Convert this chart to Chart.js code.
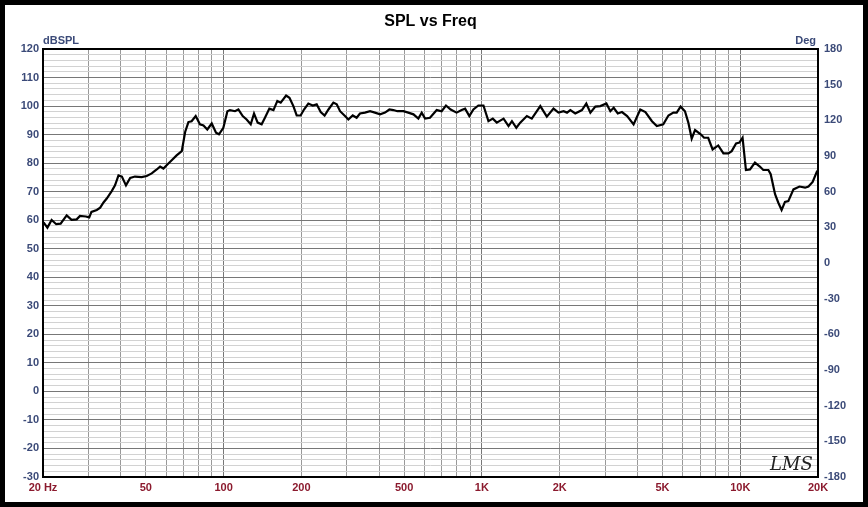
<!DOCTYPE html>
<html><head><meta charset="utf-8">
<script src="https://cdn.jsdelivr.net/npm/chart.js@4.4.1/dist/chart.umd.min.js"></script>
<style>html,body{margin:0;padding:0;background:#fff}#w{width:868px;height:507px}</style>
</head><body><div id="w"><canvas id="c" width="868" height="507"></canvas></div>
<script>
const freqHz = [20.1,20.8,21.6,22.5,23.4,24.7,25.8,27.0,27.8,29.3,30.2,30.8,32.3,33.3,34.3,35.3,36.9,38.0,39.2,40.4,41.9,43.5,45.4,48.2,50.4,52.7,54.8,56.8,58.5,60.6,63.0,65.8,68.9,71.0,73.1,75.2,78.0,81.0,83.6,86.5,90.0,93.5,96.0,99.8,103.5,105.9,110.7,114.1,118.6,122.8,127.4,131.2,135.5,140.4,144.6,150.4,156.0,161.5,166.4,174.6,179.9,186.3,191.9,198.7,204.8,212.9,221.4,229.3,237.7,246.1,254.7,266.1,274.2,282.5,295.2,304.1,316.2,327.4,337.3,352.5,369,385.5,403.6,421.7,438.5,453.9,470.9,496.6,518.8,543.3,567.6,584.8,602.6,629.6,668.5,698.4,726,757,798,835,861,894,927,969,1014,1060,1102,1142,1213,1268,1307,1359,1407,1493,1560,1683,1784,1893,1979,2072,2135,2200,2298,2439,2536,2630,2749,2874,3033,3142,3237,3357,3485,3649,3865,4102,4295,4553,4755,5036,5273,5510,5676,5877,6110,6296,6488,6685,7031,7244,7517,7817,8221,8609,8994,9267,9637,9930,10210,10520,10910,11400,11910,12280,12850,13120,13640,14030,14460,14900,15350,16070,16950,17830,18370,19070,19770,20000];
const splDb = [59.2,57.4,60.1,58.6,58.8,61.7,60.1,60.3,61.5,61.3,61.0,62.9,63.6,64.4,66.2,67.6,70.2,72.2,75.7,75.3,72.2,74.8,75.3,75.1,75.5,76.4,77.6,78.8,78.1,79.5,81.0,82.7,84.2,90.9,94.4,94.7,96.5,93.6,93.2,91.8,93.9,90.7,90.1,92.4,98.2,98.6,98.2,98.8,96.5,95.3,93.6,97.4,94.2,93.6,95.9,99.1,98.6,101.8,101.2,103.7,102.9,100,96.7,96.7,98.8,100.9,100.2,100.6,97.9,96.7,98.8,101.2,100.6,98.2,96.5,95.3,96.7,95.9,97.4,97.7,98.2,97.7,97.1,97.7,98.8,98.6,98.2,98.2,97.7,97.1,95.6,97.7,95.6,95.9,98.6,98.2,100.2,98.8,97.7,98.6,99.1,96.5,98.8,100.2,100.2,94.7,95.6,94.2,95.6,93.0,94.7,92.4,94.2,96.5,95.6,100,96.3,99.1,97.7,98.2,97.7,98.6,97.4,98.6,100.9,97.7,99.8,100,100.9,98.2,99.4,97.4,97.9,96.5,93.6,98.8,97.9,94.7,93.0,93.6,96.7,97.7,97.7,99.8,98.2,94.2,88.6,91.6,90.1,88.9,88.9,84.8,86.2,83.4,83.4,84.2,86.9,87.2,88.9,77.6,77.8,80.2,78.8,77.6,77.6,76.1,69.1,66.2,63.6,66.4,66.7,70.8,71.8,71.4,71.8,73.4,76.9,77.5];
const xTickLabels = {20:'20 Hz',50:'50',100:'100',200:'200',500:'500',1000:'1K',2000:'2K',5000:'5K',10000:'10K',20000:'20K'};
const gridFreqs = [20,30,40,50,60,70,80,90,100,200,300,400,500,600,700,800,900,1000,2000,3000,4000,5000,6000,7000,8000,9000,10000,20000];

const font = {family:'Liberation Sans, Arial', size:11, weight:'bold'};
const frame = {
  id:'frame',
  afterDraw(ch){
    const c=ch.ctx, a=ch.chartArea;
    c.save();
    c.strokeStyle='#000'; c.lineWidth=2;
    c.strokeRect(a.left,a.top,a.right-a.left,a.bottom-a.top);
    c.lineWidth=5; c.strokeRect(2.5,2.5,863,502);
    c.fillStyle='#000'; c.font='bold 16px Liberation Sans, Arial'; c.textAlign='center';
    c.fillText('SPL vs Freq',(a.left+a.right)/2,26);
    c.fillStyle='#3b4a78'; c.font='bold 11px Liberation Sans, Arial';
    c.textAlign='left'; c.fillText('dBSPL',43,44);
    c.textAlign='right'; c.fillText('Deg',a.right-2,44);
    c.fillStyle='#222'; c.font='italic 18px DejaVu Serif, serif'; c.textAlign='left';
    c.fillText('LMS',770,470);
    c.restore();
  }
};
new Chart(document.getElementById('c'),{
  type:'line',
  data:{datasets:[{data:freqHz.map((f,i)=>({x:f,y:splDb[i]})),borderColor:'#000',borderWidth:2.2,pointRadius:0,tension:0,yAxisID:'y'}]},
  options:{
    responsive:false,animation:false,
    layout:{padding:{top:49,left:0,right:0,bottom:0}},
    plugins:{legend:{display:false},tooltip:{enabled:false},title:{display:false}},
    scales:{
      x:{type:'logarithmic',min:20,max:20000,
        afterBuildTicks(s){s.ticks=gridFreqs.map(v=>({value:v}));},
        afterFit(s){s.height=30;},
        ticks:{autoSkip:false,maxRotation:0,color:'#8b1a2e',font,padding:4,callback:(v)=>xTickLabels[v]||''},
        grid:{color:(ctx)=>{const v=ctx.tick&&ctx.tick.value;return [100,1000,10000].includes(v)?'#777':'#999';},drawTicks:false},
        border:{display:false}},
      y:{position:'left',min:-30,max:120,
        afterBuildTicks(s){const t=[];for(let v=-30;v<=120;v+=2)t.push({value:v});s.ticks=t;},
        afterFit(s){s.width=43;},
        ticks:{autoSkip:false,color:'#3b4a78',font,padding:4,callback:(v)=>v%10===0?String(v):''},
        grid:{color:(ctx)=>{const v=ctx.tick&&ctx.tick.value;return v%10===0?'#777':'#d2d2d2';},drawTicks:false},
        border:{display:false}},
      y2:{position:'right',min:-180,max:180,
        afterBuildTicks(s){const t=[];for(let v=-180;v<=180;v+=30)t.push({value:v});s.ticks=t;},
        afterFit(s){s.width=50;},
        ticks:{autoSkip:false,color:'#3b4a78',font,padding:6},
        grid:{display:false,drawTicks:false},border:{display:false}}
    }
  },
  plugins:[frame]
});
</script></body></html>
